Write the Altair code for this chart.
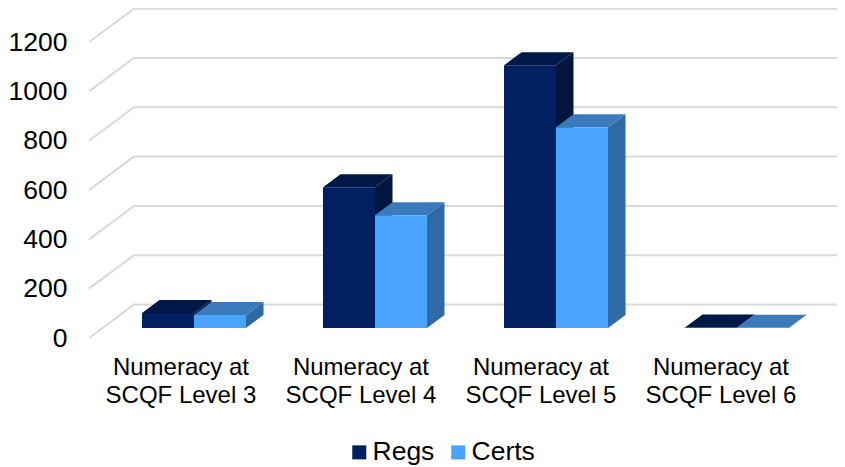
import altair as alt
import pandas as pd

categories = ["Numeracy at\nSCQF Level 3", "Numeracy at\nSCQF Level 4",
              "Numeracy at\nSCQF Level 5", "Numeracy at\nSCQF Level 6"]
regs = [61, 571, 1065, 2]
certs = [53, 457, 814, 1]
ticks = [0, 200, 400, 600, 800, 1000, 1200]

FONT = "Liberation Sans"
X_MAX = 748 / 181
Y_MAX = 1338
WALL_DX, WALL_DY = 0.2486, 135.4
BAR_DX, BAR_DY = 0.0967, 52.7
BASE = 40.5
BAR_W = 0.2873
START = 0.2928

xs = alt.Scale(domain=[0, X_MAX], nice=False, zero=False)
ys = alt.Scale(domain=[0, Y_MAX], nice=False, zero=False)
X = alt.X("x:Q", scale=xs, axis=None)
Y = alt.Y("y:Q", scale=ys, title=None, stack=None,
          axis=alt.Axis(values=ticks, format="d", domain=False, ticks=False, grid=False, labelPadding=22,
                        labelFontSize=26.5, labelFont=FONT, labelColor="#000000"))

# gridlines: wall + back wall
grid_rows = []
for t in ticks:
    grid_rows += [dict(t=t, x=0, y=t), dict(t=t, x=WALL_DX, y=t + WALL_DY), dict(t=t, x=X_MAX, y=t + WALL_DY)]
grid = alt.Chart(pd.DataFrame(grid_rows)).mark_line(color="#d9d9d9", strokeWidth=2).encode(
    x=X, y=Y, detail="t:N")


def faces(values, slot):
    side, top, front = [], [], []
    for i, v in enumerate(values):
        x0 = i + START + slot * BAR_W
        x1 = x0 + BAR_W
        side += [dict(b=i, x=x1, y=BASE, y2=BASE + v),
                 dict(b=i, x=x1 + BAR_DX, y=BASE + BAR_DY, y2=BASE + BAR_DY + v)]
        t = BASE + v
        top += [dict(b=i, x=x0, y=t, y2=t),
                dict(b=i, x=x0 + BAR_DX, y=t, y2=t + BAR_DY),
                dict(b=i, x=x1, y=t, y2=t + BAR_DY),
                dict(b=i, x=x1 + BAR_DX, y=t + BAR_DY, y2=t + BAR_DY)]
        front.append(dict(x=x0, x2=x1, y=BASE, y2=t))
    return pd.DataFrame(side), pd.DataFrame(top), pd.DataFrame(front)


def area(df, color):
    return alt.Chart(df).mark_area(color=color, orient="vertical", interpolate="linear", opacity=1).encode(
        x=X, y=Y, y2=alt.Y2("y2:Q"), detail="b:N")


r_side, r_top, r_front = faces(regs, 0)
c_side, c_top, c_front = faces(certs, 1)
r_front["series"] = "Regs"
c_front["series"] = "Certs"

front = alt.Chart(pd.concat([r_front, c_front])).mark_rect().encode(
    x=X, x2="x2:Q", y=Y, y2="y2:Q",
    color=alt.Color("series:N",
                    scale=alt.Scale(domain=["Regs", "Certs"], range=["#002060", "#4aa3ff"]),
                    legend=alt.Legend(orient="none", legendX=257, legendY=431, direction="horizontal",
                                      title=None, symbolType="square", symbolSize=196,
                                      symbolStrokeWidth=0, labelFont=FONT, labelFontSize=26.5,
                                      labelColor="#000000", labelOffset=0, columnPadding=10)))

labels = alt.Chart(pd.DataFrame(dict(label=categories, x=[i * 180 / 181 + 0.508 for i in range(4)], y=[0] * 4))).mark_text(
    font=FONT, fontSize=24, color="#000000", baseline="top", align="center",
    lineBreak="\n", lineHeight=28, dy=17.5).encode(x=X, y=Y, text="label:N")

chart = alt.layer(
    grid,
    area(r_side, "#00163f"), area(r_top, "#001848"),
    area(c_side, "#2e6aa5"), area(c_top, "#3a7aba"),
    front, labels,
).properties(
    width=748, height=330,
    padding=dict(left=81, top=0, right=0, bottom=129),
    autosize=alt.AutoSizeParams(type="none"),
    background="#ffffff",
).configure_view(stroke=None)

chart.save("out.html", embed_options={"renderer": "svg", "actions": False})
